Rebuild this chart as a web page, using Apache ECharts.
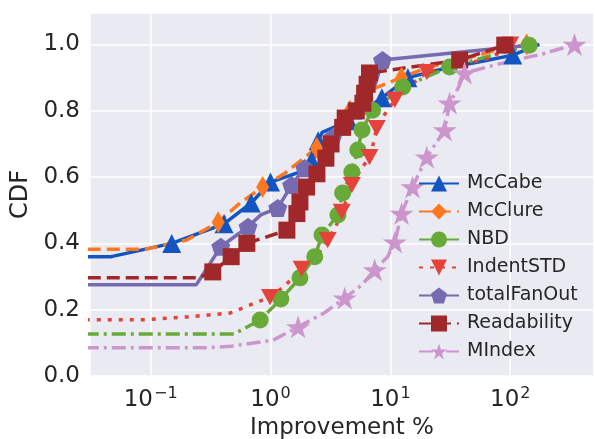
<!DOCTYPE html>
<html>
<head>
<meta charset="UTF-8">
<title>CDF</title>
<script src="https://cdn.jsdelivr.net/npm/echarts@6/dist/echarts.min.js"></script>
<style>body{margin:0;background:#fff}</style>
</head>
<body>
<div id="container" style="width:595px;height:439px;"></div>
<script>
    var names = ['McCabe', 'McClure', 'NBD', 'IndentSTD', 'totalFanOut', 'Readability', 'MIndex'];
    var colors = ['#1254c0', '#ff7820', '#68aa38', '#e3433a', '#766bb0', '#a0282a', '#cc96cc'];
    var yTicks = [0, 0.2, 0.4, 0.6, 0.8, 1.0];
    var xTickExps = { '-1': '\u22121', '0': '0', '1': '1', '2': '2' };

    // [improvement %, cdf, 1 = marker drawn at this point]
    var mccabe = [[0.01, 0.36, 0], [0.047, 0.36, 0], [0.15, 0.40, 1], [0.41, 0.459, 1], [0.69, 0.522, 1],
        [1.0, 0.585, 1], [1.75, 0.615, 0], [2.2, 0.65, 1], [2.5, 0.71, 1], [2.7, 0.735, 0], [4.5, 0.77, 1],
        [6.0, 0.80, 0], [8.5, 0.839, 1], [11, 0.87, 0], [14, 0.90, 1], [30, 0.93, 0], [60, 0.95, 0],
        [105, 0.968, 1], [175, 1.0, 0]];
    var mcclure = [[0.01, 0.382, 0], [0.09, 0.382, 0], [0.2, 0.41, 0], [0.366, 0.464, 1], [0.55, 0.52, 0],
        [0.86, 0.57, 1], [1.3, 0.61, 0], [2.43, 0.688, 1], [3.2, 0.73, 0], [4.6, 0.80, 1], [6.5, 0.86, 0],
        [12.4, 0.90, 1], [20, 0.93, 0], [40, 0.955, 0], [80, 0.985, 0], [137, 1.0, 1]];
    var nbd = [[0.01, 0.127, 0], [0.5, 0.127, 0], [0.82, 0.169, 1], [1.22, 0.232, 1], [1.76, 0.296, 1],
        [2.34, 0.36, 1], [2.69, 0.425, 1], [3.65, 0.486, 1], [4.0, 0.552, 1], [4.77, 0.615, 1],
        [5.35, 0.682, 1], [5.8, 0.742, 1], [7.1, 0.802, 1], [12.7, 0.872, 1], [31.2, 0.932, 1], [144, 0.998, 1]];
    var indentstd = [[0.01, 0.169, 0], [0.09, 0.17, 0], [0.2, 0.178, 0], [0.46, 0.19, 0], [0.99, 0.238, 1],
        [1.3, 0.27, 0], [1.82, 0.323, 1], [2.4, 0.36, 0], [3.0, 0.41, 1], [3.5, 0.45, 0], [3.93, 0.495, 1],
        [4.3, 0.53, 0], [4.77, 0.576, 1], [5.6, 0.62, 0], [6.7, 0.66, 1], [7.2, 0.70, 0], [7.7, 0.748, 1],
        [9, 0.79, 0], [10.9, 0.833, 1], [14, 0.87, 0], [20.1, 0.917, 1], [40, 0.94, 0], [70, 0.96, 0],
        [100, 1.0, 1]];
    var totalfanout = [[0.01, 0.275, 0], [0.24, 0.275, 0], [0.385, 0.39, 1], [0.5, 0.42, 0], [0.65, 0.45, 1],
        [0.83, 0.486, 0], [1.15, 0.507, 1], [1.5, 0.576, 1], [1.93, 0.627, 1], [2.6, 0.68, 0], [3.3, 0.72, 1],
        [4.2, 0.76, 0], [5.2, 0.80, 1], [6.2, 0.84, 0], [7.5, 0.88, 0], [8.6, 0.953, 1], [144, 0.998, 0]];
    var readability = [[0.01, 0.296, 0], [0.25, 0.296, 0], [0.33, 0.314, 1], [0.47, 0.36, 1], [0.635, 0.40, 1],
        [1.37, 0.44, 1], [1.66, 0.49, 1], [1.76, 0.525, 1], [2.0, 0.57, 1], [2.44, 0.61, 1], [2.9, 0.657, 1],
        [3.2, 0.70, 1], [4.0, 0.75, 1], [4.2, 0.778, 1], [5.2, 0.80, 1], [5.9, 0.823, 1], [6.1, 0.853, 1],
        [6.4, 0.88, 1], [6.7, 0.914, 1], [37.9, 0.953, 1], [90, 0.998, 1]];
    var mindex = [[0.01, 0.085, 0], [0.3, 0.085, 0], [0.47, 0.09, 0], [1.05, 0.108, 0], [1.7, 0.148, 1],
        [2.8, 0.19, 0], [4.16, 0.235, 1], [5.8, 0.275, 0], [7.4, 0.32, 1], [9.5, 0.36, 0], [10.9, 0.404, 1],
        [12.4, 0.49, 1], [15.3, 0.57, 1], [20.1, 0.66, 1], [28.4, 0.742, 1], [31.2, 0.823, 1], [37, 0.87, 0],
        [41.6, 0.914, 1], [100, 0.95, 0], [180, 0.97, 0], [344, 1.0, 1]];

    var allData = [mccabe, mcclure, nbd, indentstd, totalfanout, readability, mindex];

    var triDown = 'path://M0,0 L2,0 L1,1.8 Z';
    var pentagon = 'path://M0,-1 L0.951,-0.309 L0.588,0.809 L-0.588,0.809 L-0.951,-0.309 Z';
    var star = 'path://M0,-1 L0.225,-0.309 L0.951,-0.309 L0.363,0.118 L0.588,0.809 L0,0.382 L-0.588,0.809 L-0.363,0.118 L-0.951,-0.309 L-0.225,-0.309 Z';
    var symbols = ['triangle', 'diamond', 'circle', triDown, pentagon, 'rect', star];
    var symbolSizes = [19, [13, 22], 17, 18, 19, 17, 24];
    var dashes = ['solid', [13, 6], [14, 5, 3, 5], [4, 7], 'solid', [13, 6], [14, 5, 3, 5]];

    var font = 'DejaVu Sans';
    var ink = '#262626';
    var mycharts = echarts.init(document.getElementById('container'));

    var series = [];
    for (var i = 0; i < names.length; i++) {
        var pts = [];
        for (var j = 0; j < allData[i].length; j++) {
            var d = allData[i][j];
            var item = { value: [d[0], d[1]] };
            if (!d[2]) item.symbol = 'none';
            pts.push(item);
        }
        series.push({
            name: names[i],
            type: 'line',
            data: pts,
            symbol: symbols[i],
            symbolSize: symbolSizes[i],
            symbolKeepAspect: true,
            showAllSymbol: true,
            clip: true,
            color: colors[i],
            itemStyle: { color: colors[i], opacity: 1 },
            lineStyle: { color: colors[i], width: 3.5, type: dashes[i] },
            emphasis: { disabled: true }
        });
    }

    var option = {
        animation: false,
        backgroundColor: '#ffffff',
        textStyle: { fontFamily: font },
        grid: {
            left: 90, right: 1, top: 13, bottom: 63,
            outerBoundsMode: 'none',
            containLabel: false,
            show: true, backgroundColor: '#eaeaf2', borderWidth: 0
        },
        legend: {
            orient: 'vertical',
            left: 413, top: 169,
            itemWidth: 40, itemHeight: 20, itemGap: 9,
            textStyle: {
                fontFamily: font, fontSize: 19, color: ink,
                rich: {
                    g: { width: 3, fontSize: 19 },
                    t: { fontFamily: font, fontSize: 19, color: ink }
                }
            },
            formatter: function (n) { return '{g| }{t|' + n + '}'; },
            data: names
        },
        xAxis: {
            type: 'log',
            logBase: 10,
            min: 0.0312, max: 500,
            name: 'Improvement %',
            nameLocation: 'middle',
            nameGap: 37,
            nameTextStyle: { fontFamily: font, fontSize: 23, color: ink },
            axisLine: { show: false },
            axisTick: { show: false },
            axisLabel: {
                fontFamily: font, fontSize: 23, color: ink, margin: 10,
                showMinLabel: false, showMaxLabel: false,
                rich: {
                    b: { fontFamily: font, fontSize: 23, color: ink, verticalAlign: 'bottom' },
                    s: { fontFamily: font, fontSize: 16, color: ink, verticalAlign: 'bottom', padding: [0, 0, 10, 1] }
                },
                formatter: function (v) {
                    var e = Math.round(Math.log10(v));
                    if (Math.abs(Math.log10(v) - e) > 1e-6) return '';
                    var s = xTickExps[String(e)];
                    return s === undefined ? '' : '{b|10}{s|' + s + '}';
                }
            },
            splitLine: { show: true, lineStyle: { color: '#ffffff', width: 1.5 } }
        },
        yAxis: {
            type: 'value',
            min: 0, max: 1.095, interval: 0.2,
            name: 'CDF',
            nameLocation: 'middle',
            nameGap: 56,
            nameRotate: 90,
            nameTextStyle: { fontFamily: font, fontSize: 24, color: ink },
            axisLine: { show: false },
            axisTick: { show: false },
            axisLabel: {
                fontFamily: font, fontSize: 23, color: ink, margin: 10,
                formatter: function (v) {
                    for (var k = 0; k < yTicks.length; k++) {
                        if (Math.abs(v - yTicks[k]) < 1e-6) return yTicks[k].toFixed(1);
                    }
                    return '';
                }
            },
            splitLine: { show: true, lineStyle: { color: '#ffffff', width: 1.5 } }
        },
        series: series
    };

    mycharts.setOption(option);
</script>
</body>
</html>
